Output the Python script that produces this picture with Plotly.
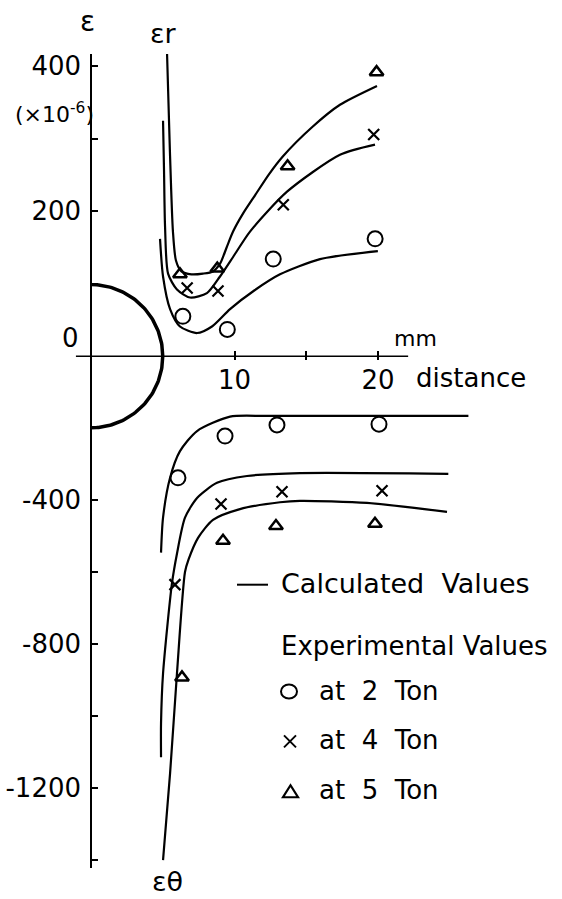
import numpy as np
import plotly.graph_objects as go

# ---------------- data ----------------
# radial strain (upper part, x 1e-6), measured
r2_x = [6.4, 9.5, 12.7, 19.8];   r2_y = [55, 37, 134, 162]
r4_x = [6.7, 8.85, 13.4, 19.7];  r4_y = [94, 90, 209, 306]
r5_x = [6.2, 8.8, 13.7, 19.9];   r5_y = [113, 121, 262, 392]
# tangential strain (lower part), measured
t2_x = [6.06, 9.34, 12.96, 20.07]; t2_y = [-338, -222, -191, -189]
t4_x = [5.85, 9.06, 13.31, 20.28]; t4_y = [-635, -411, -377, -374]
t5_x = [6.34, 9.20, 12.89, 19.79]; t5_y = [-893, -513, -472, -466]

# calculated curves, radial
cr5_x = [5.30, 5.50, 5.71, 5.92, 6.3, 7.0, 7.8, 8.5, 9.0, 9.45, 9.9, 10.6, 11.43, 12.4, 13.38, 15.4, 17.35, 19.93]
cr5_y = [417, 282, 172, 132, 117, 113, 114, 117, 128, 150, 172, 197, 222, 251, 276, 316, 347, 373]
cr4_x = [5.02, 5.09, 5.16, 5.37, 5.99, 6.90, 8.08, 8.99, 10.0, 11.08, 13.66, 17.35, 19.79]
cr4_y = [325, 255, 179, 114, 92, 81, 87, 110, 140, 172, 227, 278, 292]
cr2_x = [4.81, 5.02, 5.51, 6.20, 7.39, 8.43, 9.69, 11.4, 13.17, 15.96, 19.99]
cr2_y = [162, 110, 65, 41, 32, 41, 65, 91, 113, 134, 145]
# calculated curves, tangential
ct2_x = [4.88, 5.02, 5.51, 6.20, 7.39, 9.69, 12.3, 26.3]
ct2_y = [-546, -449, -338, -264, -208, -168, -166, -166]
ct4_x = [4.88, 4.88, 5.02, 5.64, 5.99, 6.55, 7.39, 8.78, 10.87, 14.56, 24.9]
ct4_y = [-1115, -1021, -882, -632, -549, -449, -394, -352, -333, -325, -327]
ct5_x = [5.02, 5.51, 5.99, 6.55, 6.80, 7.46, 8.50, 10.38, 13.17, 14.56, 19.23, 24.81]
ct5_y = [-1401, -1160, -882, -600, -565, -505, -455, -425, -406, -402, -408, -433]

hole_radius_mm = 5

# ---------------- layout constants ----------------
W, H = 562, 899
X0_PX, PX_PER_MM = 91, 14.35
Y0_PX, Y_TOP_PX, Y_BOT_PX = 355, 52, 868
PPU_POS, PPU_NEG = 0.7263, 0.3605
FONT = "DejaVu Sans"

def PX(x): return x / W
def PY(y): return 1 - y / H

x_range = [-X0_PX / PX_PER_MM, (W - X0_PX) / PX_PER_MM]
up_dom = [PY(Y0_PX), PY(Y_TOP_PX)]
lo_dom = [PY(Y_BOT_PX), PY(Y0_PX)]
up_range = [0, (Y0_PX - Y_TOP_PX) / PPU_POS]
lo_range = [-(Y_BOT_PX - Y0_PX) / PPU_NEG, 0]

fig = go.Figure()
line_style = dict(color="black", width=2.2, shape="spline", smoothing=0.7)

for cx, cy in [(cr5_x, cr5_y), (cr4_x, cr4_y), (cr2_x, cr2_y)]:
    fig.add_trace(go.Scatter(x=cx, y=cy, mode="lines", line=line_style, xaxis="x", yaxis="y"))
for cx, cy in [(ct2_x, ct2_y), (ct4_x, ct4_y), (ct5_x, ct5_y)]:
    fig.add_trace(go.Scatter(x=cx, y=cy, mode="lines", line=line_style, xaxis="x2", yaxis="y2"))

# hole (semicircle) drawn in both halves
th = np.linspace(0, np.pi / 2, 60)
r_px = hole_radius_mm * PX_PER_MM
fig.add_trace(go.Scatter(x=hole_radius_mm * np.cos(th), y=(r_px / PPU_POS) * np.sin(th), mode="lines",
                         line=dict(color="black", width=3.5), xaxis="x", yaxis="y"))
fig.add_trace(go.Scatter(x=hole_radius_mm * np.cos(th), y=-(r_px / PPU_NEG) * np.sin(th), mode="lines",
                         line=dict(color="black", width=3.5), xaxis="x2", yaxis="y2"))

m_circle = dict(symbol="circle-open", size=15, color="black", line=dict(width=2, color="black"))
m_cross = dict(symbol="x-thin-open", size=11, color="black", line=dict(width=2.2, color="black"))
m_tri = dict(symbol="triangle-up-open", size=12, color="black", line=dict(width=2.5, color="black"))

for xs, ys, m, ax in [(r2_x, r2_y, m_circle, 1), (r4_x, r4_y, m_cross, 1), (r5_x, r5_y, m_tri, 1),
                      (t2_x, t2_y, m_circle, 2), (t4_x, t4_y, m_cross, 2), (t5_x, t5_y, m_tri, 2)]:
    fig.add_trace(go.Scatter(x=xs, y=ys, mode="markers", marker=m,
                             xaxis="x" if ax == 1 else "x2", yaxis="y" if ax == 1 else "y2"))

tickfont = dict(family=FONT, size=26, color="black")
yax_common = dict(anchor="free", position=X0_PX / W, showline=True, linewidth=1.5, linecolor="black",
                  ticks="inside", ticklen=6, tickwidth=1.5, tickcolor="black", showgrid=False,
                  zeroline=False, tickfont=tickfont, ticklabelstandoff=4)

fig.update_layout(
    width=W, height=H, margin=dict(l=0, r=0, t=0, b=0),
    paper_bgcolor="white", plot_bgcolor="white", showlegend=False,
    xaxis=dict(domain=[0, 1], range=x_range, anchor="y", showline=False, showgrid=False, zeroline=False,
               ticks="inside", ticklen=5, tickwidth=1.5, tickcolor="black",
               tickvals=[5, 10, 15, 20], ticktext=["", "10", "", "20"], tickfont=tickfont,
               ticklabelstandoff=6),
    xaxis2=dict(domain=[0, 1], range=x_range, anchor="y2", side="top", showline=False, showgrid=False,
                zeroline=False, ticks="inside", ticklen=4, tickwidth=1.5, tickcolor="black",
                tickvals=[5, 10, 15, 20], showticklabels=False),
    yaxis=dict(domain=up_dom, range=up_range, tickvals=[100, 200, 300, 400],
               ticktext=["", "200", "", "400"], **yax_common),
    yaxis2=dict(domain=lo_dom, range=lo_range, tickvals=[-200, -400, -600, -800, -1000, -1200, -1400],
                ticktext=["", "-400", "", "-800", "", "-1200", ""], **yax_common),
)

shapes = [
    dict(type="line", xref="x", yref="paper", x0=-1.05, x1=22.1, y0=up_dom[0], y1=up_dom[0],
         line=dict(color="black", width=1.5)),
    dict(type="line", xref="paper", yref="paper", x0=PX(237), x1=PX(268), y0=PY(584), y1=PY(584),
         line=dict(color="black", width=2)),
    dict(type="circle", xref="paper", yref="paper", x0=PX(281), x1=PX(297), y0=PY(698), y1=PY(684),
         line=dict(color="black", width=2)),
    dict(type="line", xref="paper", yref="paper", x0=PX(284), x1=PX(296), y0=PY(735), y1=PY(747),
         line=dict(color="black", width=2)),
    dict(type="line", xref="paper", yref="paper", x0=PX(284), x1=PX(296), y0=PY(747), y1=PY(735),
         line=dict(color="black", width=2)),
    dict(type="path", xref="paper", yref="paper",
         path=f"M {PX(283)},{PY(797)} L {PX(298)},{PY(797)} L {PX(290.5)},{PY(785)} Z",
         line=dict(color="black", width=2.2)),
]
fig.update_layout(shapes=shapes)

def ann(text, x, y, size=26, xanchor="center"):
    return dict(text=text, x=PX(x), y=PY(y), xref="paper", yref="paper", showarrow=False,
                xanchor=xanchor, yanchor="middle", font=dict(family=FONT, size=size, color="black"))

NB = "\u00a0"
annotations = [
    ann("ε", 87, 20, 28),
    ann("εr", 163, 32, 27),
    ann("εθ", 167, 881, 27),
    ann("(×10<sup>-6</sup>)", 54, 111, 22),
    ann("0", 70, 337, 26),
    ann("mm", 415, 337, 22),
    ann("distance", 471, 377, 26),
    ann("Calculated" + NB + NB + "Values", 279, 583, 27, "left"),
    ann("Experimental" + NB + "Values", 279, 645, 26, "left"),
    ann("at" + NB + NB + "2" + NB + NB + "Ton", 317, 691, 26, "left"),
    ann("at" + NB + NB + "4" + NB + NB + "Ton", 317, 740, 26, "left"),
    ann("at" + NB + NB + "5" + NB + NB + "Ton", 317, 790, 26, "left"),
]
fig.update_layout(annotations=annotations)

# remove the browser's default 8px page margin so the figure sits at the window origin
fig.write_html("out.html", config={"displayModeBar": False},
               post_script="document.body.style.margin='0';")
